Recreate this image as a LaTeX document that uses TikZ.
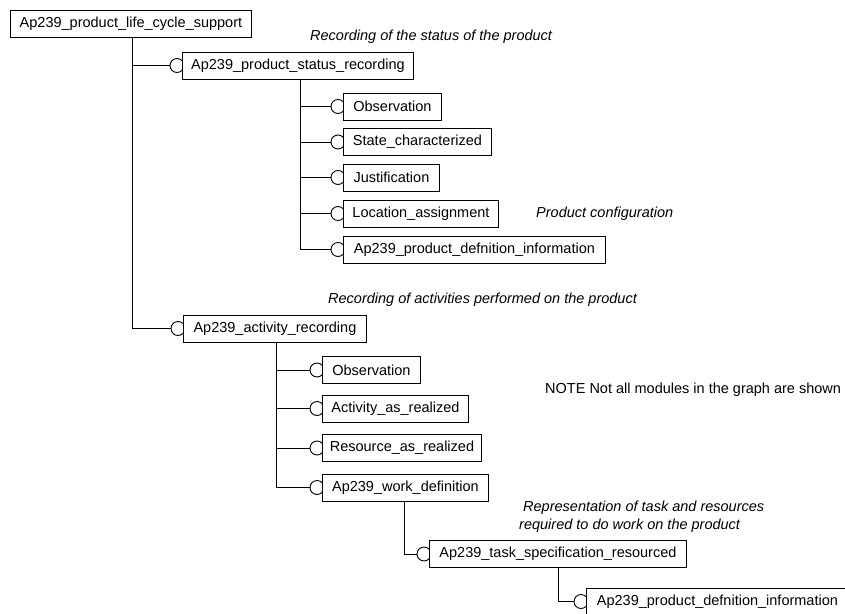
\documentclass[tikz,border=0pt]{standalone}
\usepackage{fontspec}
\setmainfont{Liberation Sans}
\usetikzlibrary{backgrounds}
\begin{document}
\begin{tikzpicture}[x=1pt,y=-1pt,
  mod/.style={draw=black,line width=0.9pt,fill=white,anchor=west,minimum height=27pt,inner xsep=0pt,inner ysep=0pt,font=\fontsize{14.5}{17}\selectfont},
  note/.style={anchor=west,inner sep=0pt,font=\fontsize{14.5}{17}\selectfont\itshape},
  conn/.style={draw=black,line width=0.9pt},
  lolly/.style={draw=black,line width=0.9pt,fill=white}]
\useasboundingbox (0,0) rectangle (845,613);
\clip (0,0) rectangle (845,613);

\node[mod,minimum width=241pt] (root) at (10,23.5) {Ap239\_product\_life\_cycle\_support};
\node[mod,minimum width=231pt] (status) at (182,65.5) {Ap239\_product\_status\_recording};
\node[mod,minimum width=98pt] (obsA) at (343,106.5) {Observation};
\node[mod,minimum width=148pt] (state) at (343,142) {State\_characterized};
\node[mod,minimum width=96pt] (just) at (343,177.5) {Justification};
\node[mod,minimum width=155pt] (loc) at (343,213.5) {Location\_assignment};
\node[mod,minimum width=262pt] (pdiA) at (343,249.5) {Ap239\_product\_defnition\_information};
\node[mod,minimum width=183pt] (act) at (183,328.5) {Ap239\_activity\_recording};
\node[mod,minimum width=98pt] (obsB) at (322,370) {Observation};
\node[mod,minimum width=146pt] (actr) at (322,408.5) {Activity\_as\_realized};
\node[mod,minimum width=159pt] (res) at (322,448) {Resource\_as\_realized};
\node[mod,minimum width=166pt] (work) at (322,487.5) {Ap239\_work\_definition};
\node[mod,minimum width=257pt] (task) at (429,554) {Ap239\_task\_specification\_resourced};
\node[mod,minimum width=262pt] (pdiB) at (586,601.5) {Ap239\_product\_defnition\_information};

\node[note] (t1) at (310,37) {Recording of the status of the product};
\node[note] (t2) at (536,213.5) {Product configuration};
\node[note] (t3) at (328,300) {Recording of activities performed on the product};
\node[anchor=west,inner sep=0pt,font=\fontsize{14.5}{17}\selectfont] (t4) at (545,390) {NOTE Not all modules in the graph are shown};
\node[note] (t5) at (523,508) {Representation of task and resources};
\node[note] (t6) at (519,526) {required to do work on the product};

\begin{scope}[on background layer]
\fill[white] (0,0) rectangle (845,613);
\foreach \p/\o/\c in {root/122/status, root/122/act,
  status/118/obsA, status/118/state, status/118/just, status/118/loc, status/118/pdiA,
  act/93/obsB, act/93/actr, act/93/res, act/93/work,
  work/82/task, task/129/pdiB}{
  \draw[conn] ([xshift=\o pt]\p.south west) |- ([xshift=-12pt]\c.west);
  \draw[lolly] ([xshift=-5pt]\c.west) circle[radius=7pt];
}
\end{scope}
\end{tikzpicture}
\end{document}
